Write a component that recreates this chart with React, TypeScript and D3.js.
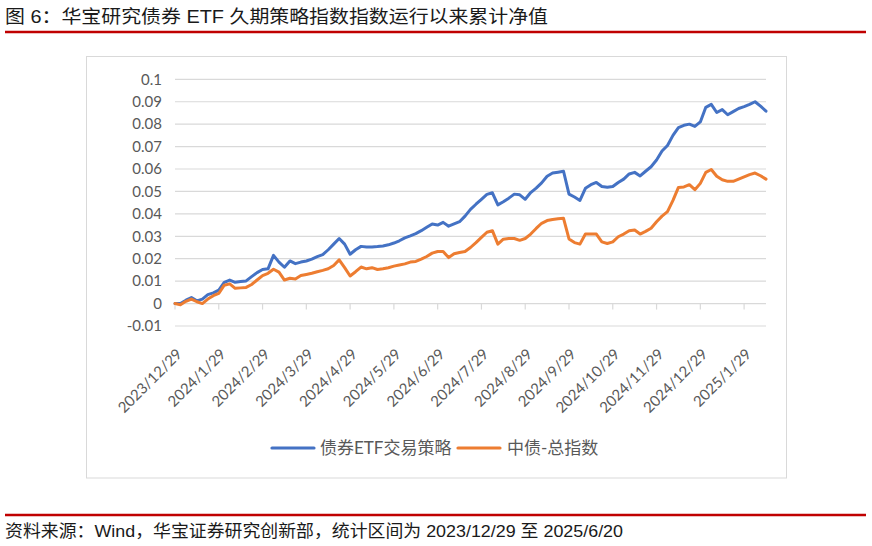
import React from 'react';
import * as d3 from 'd3';

const titleText = '图 6：华宝研究债券 ETF 久期策略指数指数运行以来累计净值';
const footerText = '资料来源：Wind，华宝证券研究创新部，统计区间为 2023/12/29 至 2025/6/20';

const xLabels = [
  '2023/12/29', '2024/1/29', '2024/2/29', '2024/3/29', '2024/4/29', '2024/5/29', '2024/6/29',
  '2024/7/29', '2024/8/29', '2024/9/29', '2024/10/29', '2024/11/29', '2024/12/29', '2025/1/29',
];
const labelStep = 8;

const yTickValues = [0.1, 0.09, 0.08, 0.07, 0.06, 0.05, 0.04, 0.03, 0.02, 0.01, 0, -0.01];
const yTickLabels = ['0.1', '0.09', '0.08', '0.07', '0.06', '0.05', '0.04', '0.03', '0.02', '0.01', '0', '-0.01'];

const seriesNames = ['债券ETF交易策略', '中债-总指数'];
const seriesColors = ['#4472C4', '#ED7D31'];

const strategy = [
  0.0, 0.0, 0.0015, 0.0027, 0.0012, 0.002, 0.004, 0.0048, 0.006, 0.0095,
  0.0105, 0.0095, 0.0098, 0.0101, 0.012, 0.0138, 0.0152, 0.0155, 0.0215, 0.0185,
  0.0162, 0.019, 0.0178, 0.0185, 0.019, 0.0198, 0.0209, 0.0218, 0.024, 0.0265,
  0.029, 0.0265, 0.022, 0.024, 0.0255, 0.0252, 0.0252, 0.0254, 0.0257, 0.0262,
  0.027, 0.028, 0.0293, 0.0302, 0.0312, 0.0325, 0.034, 0.0355, 0.035, 0.0362,
  0.0345, 0.0355, 0.0365, 0.039, 0.042, 0.0443, 0.0465, 0.0487, 0.0494, 0.044,
  0.0454, 0.047, 0.0488, 0.0485, 0.0465, 0.0495, 0.0515, 0.0538, 0.0568, 0.0582,
  0.0586, 0.059, 0.0488, 0.0475, 0.046, 0.0514, 0.053, 0.054, 0.0522, 0.0519,
  0.0522, 0.054, 0.0555, 0.0578, 0.0585, 0.0569, 0.059, 0.061, 0.064, 0.068,
  0.0705, 0.075, 0.0785, 0.0795, 0.08, 0.079, 0.081, 0.0875, 0.0888, 0.0852,
  0.0865, 0.0842, 0.0856, 0.087, 0.0878, 0.0888, 0.09, 0.088, 0.0858,
];

const benchmark = [
  0.0, -0.0005, 0.001, 0.002, 0.0008, 0.0, 0.002, 0.0035, 0.0045, 0.0082,
  0.0088, 0.0068, 0.007, 0.0072, 0.0085, 0.0105, 0.0125, 0.0135, 0.0153, 0.014,
  0.0105, 0.0113, 0.011, 0.0125, 0.013, 0.0135, 0.0142, 0.0148, 0.0155, 0.017,
  0.0195, 0.016, 0.0123, 0.0142, 0.0163, 0.0155, 0.016, 0.0152, 0.0155, 0.016,
  0.0167, 0.0172, 0.0177, 0.0185, 0.0188, 0.0198, 0.021, 0.0225, 0.0232, 0.0232,
  0.0205, 0.0222, 0.0228, 0.0232, 0.025, 0.0272, 0.0295, 0.0318, 0.0325, 0.0265,
  0.0287, 0.029, 0.029, 0.0282, 0.029, 0.031, 0.0335, 0.0358, 0.037, 0.0375,
  0.0378, 0.038, 0.0288, 0.0272, 0.0265, 0.031, 0.031, 0.031, 0.0275, 0.0268,
  0.0275, 0.0298, 0.031, 0.0325, 0.0328, 0.031, 0.0322, 0.0336, 0.0365, 0.039,
  0.041, 0.046, 0.0518, 0.052, 0.053, 0.0508, 0.0536, 0.0585, 0.0598, 0.0568,
  0.0552, 0.0545, 0.0545, 0.0555, 0.0565, 0.0575, 0.0582, 0.057, 0.0555,
];

const latinCjk = '"Liberation Sans", "Noto Sans CJK SC", sans-serif';
const axisFont = 'Lato, "Noto Sans CJK SC", sans-serif';

export default function App() {
  const W = 872;
  const H = 546;
  const x = d3.scaleLinear().domain([0, strategy.length - 1]).range([175, 766]);
  const y = d3.scaleLinear().domain([-0.01, 0.1]).range([326, 79.3]);
  const line = d3
    .line<number>()
    .x((_, i) => x(i))
    .y((d) => y(d));

  const series = [strategy, benchmark];
  const [xMin, xMax] = x.range();

  return (
    <svg
      width={W}
      height={H}
      viewBox={`0 0 ${W} ${H}`}
      style={{ position: 'absolute', left: 0, top: 0, background: '#fff' }}
    >
      <rect x={0} y={0} width={W} height={H} fill="#fff" />
      {/* Title */}
      <text
        x={5}
        y={23}
        fontFamily={latinCjk}
        fontSize={18}
        fill="#1a1a1a"
        textLength={543}
        lengthAdjust="spacingAndGlyphs"
      >
        {titleText}
      </text>
      <line x1={5} x2={866} y1={32} y2={32} stroke="#C00000" strokeWidth={2.5} />

      {/* Chart box */}
      <rect x={86.5} y={56.5} width={700} height={421.5} fill="#fff" stroke="#D9D9D9" strokeWidth={1} />

      {/* Gridlines & y labels */}
      {yTickValues.map((v, i) => (
        <g key={`y${i}`}>
          <line x1={xMin} x2={xMax} y1={y(v)} y2={y(v)} stroke="#D9D9D9" strokeWidth={1.2} />
          <text
            x={162}
            y={y(v)}
            dy="0.35em"
            textAnchor="end"
            fontFamily={axisFont}
            fontSize={15}
            fill="#595959"
          >
            {yTickLabels[i]}
          </text>
        </g>
      ))}

      {/* x tick marks & labels */}
      {xLabels.map((lab, k) => {
        const xp = x(k * labelStep);
        return (
          <g key={`x${k}`}>
            <line x1={xp} x2={xp} y1={y(0)} y2={y(0) + 6} stroke="#D9D9D9" strokeWidth={1.2} />
            <text
              transform={`translate(${xp + 8},355) rotate(-45)`}
              textAnchor="end"
              fontFamily={axisFont}
              fontSize={15}
              fill="#595959"
            >
              {lab}
            </text>
          </g>
        );
      })}

      {/* Lines */}
      {series.map((s, i) => (
        <path
          key={`s${i}`}
          d={line(s) || ''}
          fill="none"
          stroke={seriesColors[i]}
          strokeWidth={3}
          strokeLinejoin="round"
          strokeLinecap="round"
        />
      ))}

      {/* Legend */}
      <line x1={272} x2={314} y1={448} y2={448} stroke={seriesColors[0]} strokeWidth={3.2} strokeLinecap="round" />
      <text x={320} y={454} fontFamily={axisFont} fontSize={17} fill="#595959">
        {seriesNames[0]}
      </text>
      <line x1={458} x2={500} y1={448} y2={448} stroke={seriesColors[1]} strokeWidth={3.2} strokeLinecap="round" />
      <text x={507} y={454} fontFamily={axisFont} fontSize={17} fill="#595959">
        {seriesNames[1]}
      </text>

      {/* Footer */}
      <line x1={5} x2={866} y1={515} y2={515} stroke="#C00000" strokeWidth={2.5} />
      <text
        x={5}
        y={537}
        fontFamily={latinCjk}
        fontSize={17}
        fill="#1a1a1a"
        textLength={618}
        lengthAdjust="spacingAndGlyphs"
      >
        {footerText}
      </text>
    </svg>
  );
}
